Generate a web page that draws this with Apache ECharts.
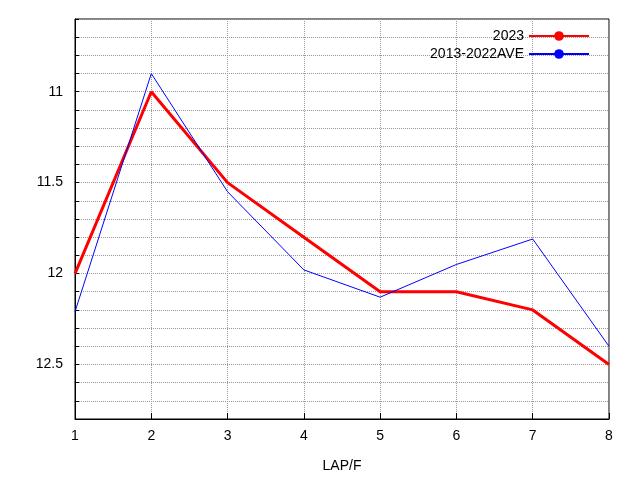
<!DOCTYPE html>
<html><head><meta charset="utf-8">
<script src="https://cdn.jsdelivr.net/npm/echarts@6/dist/echarts.min.js"></script>
<style>html,body{margin:0;padding:0;background:#fff}#c{width:640px;height:480px}</style>
</head><body><div id="c"></div>
<script>
const laps = [1,2,3,4,5,6,7,8];
const y2023 = [12.0,11.0,11.5,11.8,12.1,12.1,12.2,12.5];
const yAve = [12.21,10.90,11.55,11.98,12.13,11.95,11.81,12.40];
const names = ['2023','2013-2022AVE'];
const chart = echarts.init(document.getElementById('c'));
const grid = {type:'dotted',color:'#999',width:1};
chart.setOption({
  animation:false,
  grid:{left:75,right:31,top:19,bottom:61,show:true,borderColor:'#000',borderWidth:1},
  legend:{right:45,top:24,orient:'vertical',align:'right',itemWidth:60,itemHeight:12,itemGap:4,
    textStyle:{fontFamily:'Liberation Sans',fontSize:14,color:'#000'},data:names},
  xAxis:{type:'value',min:1,max:8,interval:1,name:'LAP/F',nameLocation:'middle',nameGap:40,
    nameTextStyle:{fontFamily:'Liberation Sans',fontSize:14,color:'#000'},
    axisLine:{lineStyle:{color:'#000'}},axisTick:{inside:true,length:6,lineStyle:{color:'#000'}},
    axisLabel:{fontFamily:'Liberation Sans',fontSize:14,color:'#000',margin:10},
    splitLine:{show:true,lineStyle:grid}},
  yAxis:{type:'value',inverse:true,min:10.6,max:12.8,interval:0.1,
    axisLine:{lineStyle:{color:'#000'}},axisTick:{inside:true,length:4,lineStyle:{color:'#000'}},
    axisLabel:{fontFamily:'Liberation Sans',fontSize:14,color:'#000',margin:12,
      formatter:v=>{const r=Math.round(v*10);return r%5===0?String(Math.round(v*10)/10):'';}},
    splitLine:{show:true,lineStyle:grid}},
  series:[
    {name:names[0],type:'line',data:laps.map((x,i)=>[x,y2023[i]]),symbol:'none',
      lineStyle:{color:'#ff0000',width:3},itemStyle:{color:'#ff0000'}},
    {name:names[1],type:'line',data:laps.map((x,i)=>[x,yAve[i]]),symbol:'none',
      lineStyle:{color:'#0000ff',width:1},itemStyle:{color:'#0000ff'}}
  ]
});
</script></body></html>
